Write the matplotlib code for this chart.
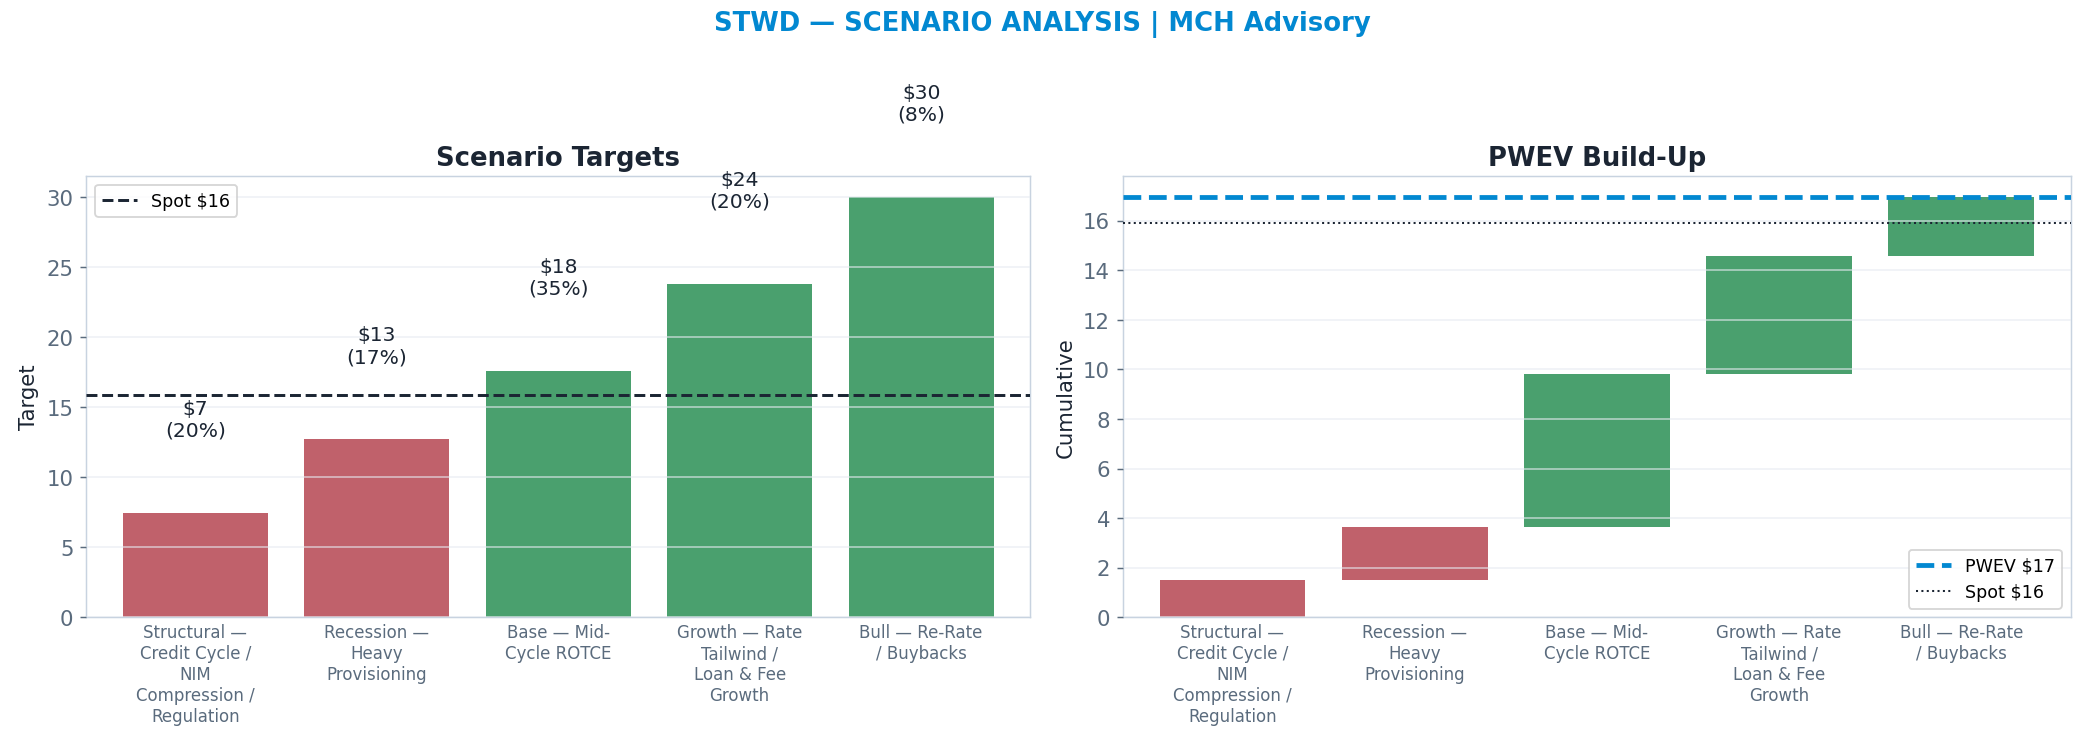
import matplotlib
matplotlib.use("Agg")
import matplotlib.pyplot as plt
import numpy as np

categories = ["Structural —\nCredit Cycle /\nNIM\nCompression /\nRegulation",
              "Recession —\nHeavy\nProvisioning",
              "Base — Mid-\nCycle ROTCE",
              "Growth — Rate\nTailwind /\nLoan & Fee\nGrowth",
              "Bull — Re-Rate\n/ Buybacks"]
targets = [7.45, 12.7, 17.6, 23.8, 30.0]
probs = [0.20, 0.17, 0.35, 0.20, 0.08]
spot = 15.9
red, green = "#c0616b", "#4aa06e"
colors = [red, red, green, green, green]
spine_c = "#c8d3e0"
tick_c = "#5a6b7d"

W, H = 1568, 558
fig = plt.figure(figsize=(W/100, H/100), dpi=100)
ax1 = fig.add_axes([65/W, 1-465/H, 710/W, 332/H])
ax2 = fig.add_axes([845/W, 1-465/H, 713/W, 332/H])
fig.suptitle("STWD — SCENARIO ANALYSIS | MCH Advisory", color="#0288d1",
             fontweight="bold", fontsize=14, y=0.985)

x = np.arange(len(categories))
ax1.bar(x, targets, color=colors, width=0.8, zorder=1)
for xi, t, p in zip(x, targets, probs):
    ax1.text(xi, t + 5.2, f"${t:.0f}\n({p*100:.0f}%)", ha="center", va="bottom",
             fontsize=11, color="#1b2533", clip_on=False)
ax1.axhline(spot, color="#1b2533", ls="--", lw=1.6, label=f"Spot ${spot:.0f}", zorder=3)
ax1.set_ylim(0, 31.5)
ax1.set_ylabel("Target", fontsize=11.5, color="#1b2533")
ax1.set_title("Scenario Targets", fontsize=14, fontweight="bold", color="#1b2533", pad=6)
ax1.legend(loc="upper left", fontsize=9.5)

contrib = [t * p for t, p in zip(targets, probs)]
bottoms = np.concatenate([[0], np.cumsum(contrib)[:-1]])
ax2.bar(x, contrib, bottom=bottoms, color=colors, width=0.8, zorder=1)
pwev = sum(contrib)
ax2.axhline(pwev, color="#0288d1", ls="--", lw=2.6, label=f"PWEV ${pwev:.0f}", zorder=3)
ax2.axhline(spot, color="#1b2533", ls=":", lw=1.1, label=f"Spot ${spot:.0f}", zorder=3)
ax2.set_ylim(0, 17.8)
ax2.set_yticks(range(0, 17, 2))
ax2.set_ylabel("Cumulative", fontsize=11.5, color="#1b2533")
ax2.set_title("PWEV Build-Up", fontsize=14, fontweight="bold", color="#1b2533", pad=6)
ax2.legend(loc="lower right", fontsize=9.5)

for ax in (ax1, ax2):
    ax.set_xticks(x)
    ax.set_xticklabels(categories, fontsize=9, color=tick_c)
    ax.tick_params(axis="y", labelsize=11.5, colors=tick_c)
    ax.tick_params(axis="x", length=0)
    ax.set_xlim(-0.6, 4.6)
    ax.grid(axis="y", color="#e6ebf1", lw=1, alpha=0.6, zorder=2)
    ax.set_axisbelow(False)
    for s in ax.spines.values():
        s.set_color(spine_c)

fig.savefig("out.png", dpi=100*2084/W)
